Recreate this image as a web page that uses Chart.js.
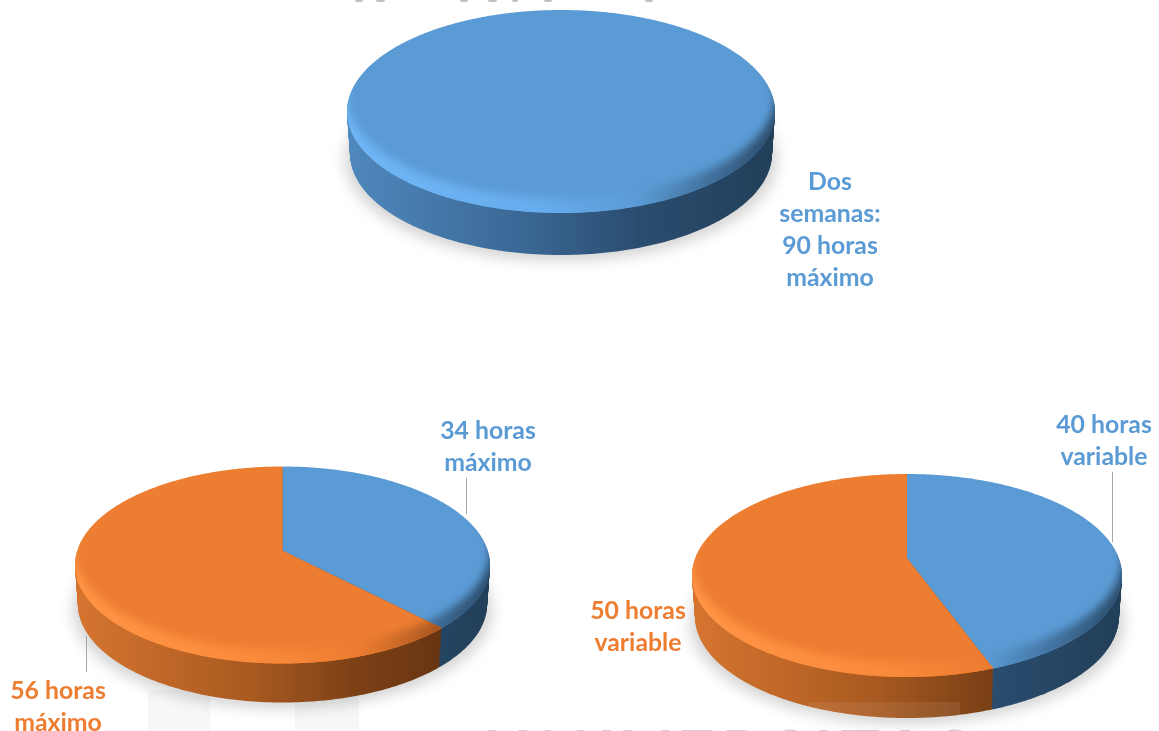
<!DOCTYPE html>
<html lang="es">

<head>
  <meta charset="utf-8" />
  <title>Jornadas máximas</title>
  <script src="https://cdn.jsdelivr.net/npm/chart.js"></script>
  <style>
    html, body {
      margin: 0;
      width: 1159px;
      height: 731px;
      overflow: hidden;
      background: #fff;
    }
    canvas { position: absolute; }
    .label {
      position: absolute;
      width: 200px;
      margin-left: -100px;
      text-align: center;
      font: bold 24.8px/32px Lato, sans-serif;
    }
    .blue { color: #5b9bd5; }
    .orange { color: #ed7d31; }
    .leader { position: absolute; width: 1px; background: #a6a6a6; }
    .stripe { position: absolute; top: 690px; height: 41px; background: #f7f7f7; }
    .scrap { position: absolute; top: 0; height: 2px; background: #c0c0c0; border-radius: 0 0 3px 3px; }
    #watermark {
      position: absolute;
      left: 483px;
      top: 721px;
      font: bold 66px/66px Lato, sans-serif;
      letter-spacing: 7px;
      color: #d0d0d0;
      white-space: nowrap;
    }
    #veil { position: absolute; left: 808px; top: 702px; width: 152px; height: 16px; background: rgba(255, 255, 255, 0.08); }
  </style>
</head>

<body>
  <div class="stripe" style="left: 148px; width: 62px"></div>
  <div class="stripe" style="left: 295px; width: 64px"></div>
  <div id="watermark">UNIVERSITAS</div>

  <canvas id="pieTop"></canvas>
  <canvas id="pieLeft"></canvas>
  <canvas id="pieRight"></canvas>
  <div id="veil"></div>

  <div class="leader" style="left: 466px; top: 478px; height: 36px"></div>
  <div class="leader" style="left: 86px; top: 636px; height: 36px"></div>
  <div class="leader" style="left: 1112px; top: 472px; height: 70px"></div>

  <div class="label blue" style="left: 830px; top: 165px">Dos<br>semanas:<br>90 horas<br>máximo</div>
  <div class="label blue" style="left: 488px; top: 414px">34 horas<br>máximo</div>
  <div class="label orange" style="left: 58px; top: 674px">56 horas<br>máximo</div>
  <div class="label blue" style="left: 1104px; top: 408px">40 horas<br>variable</div>
  <div class="label orange" style="left: 638px; top: 594px">50 horas<br>variable</div>

  <script>
    const topLabels = ['Dos semanas: 90 horas máximo'];
    const topValues = [90];
    const leftLabels = ['34 horas máximo', '56 horas máximo'];
    const leftValues = [34, 56];
    const rightLabels = ['40 horas variable', '50 horas variable'];
    const rightValues = [40, 50];

    const BLUE = '#5b9bd5';
    const ORANGE = '#ed7d31';
    const PAD = 30;

    // colores del borde y del bisel, de izquierda a derecha
    const sideColors = {
      [BLUE]: ['#4f88bd', '#3a6794', '#2a4d6f', '#223f59'],
      [ORANGE]: ['#d67530', '#a95a20', '#7c4016', '#5c2e0f']
    };
    const bevelColors = {
      [BLUE]: ['#6fb6f6', '#68aeef', BLUE, '#2a4a68'],
      [ORANGE]: ['#ff9546', '#fb8b3c', ORANGE, '#7c3f14']
    };

    const ramp = (ctx, x0, x1, colors) => {
      const g = ctx.createLinearGradient(x0, 0, x1, 0);
      const stops = [0, 0.42, 0.68, 1];
      colors.forEach((c, i) => g.addColorStop(stops[i], c));
      return g;
    };

    // plugin: dibuja los sectores de Chart.js inclinados, con borde y sombra
    const tiltPlugin = (geo) => ({
      id: 'tilt',
      beforeDatasetsDraw(chart) {
        const ctx = chart.ctx;
        const arcs = chart.getDatasetMeta(0).data;
        const colors = chart.data.datasets[0].backgroundColor;
        const p = (geo.front - geo.rear) / (geo.front + geo.rear);
        const S = geo.rear * (1 + p);
        const cx = arcs[0].x, cy = arcs[0].y;
        const R = arcs[0].outerRadius * Math.sqrt(1 - p * p);
        const left = cx - arcs[0].outerRadius, right = cx + arcs[0].outerRadius;

        const project = (a, k) => {
          const w = 1 - p * Math.sin(a);
          return [cx + k * R * Math.cos(a) / w, cy + S * Math.sin(a) / w];
        };
        const trace = (a0, a1, dy, center, k = 1) => {
          const n = Math.ceil((a1 - a0) / 0.01);
          if (center) ctx.moveTo(cx, cy + dy);
          for (let i = 0; i <= n; i++) {
            const [x, y] = project(a0 + (a1 - a0) * i / n, k);
            if (i === 0 && !center) ctx.moveTo(x, y + dy);
            else ctx.lineTo(x, y + dy);
          }
          ctx.closePath();
        };

        // sombra
        ctx.save();
        ctx.filter = 'blur(7px)';
        ctx.fillStyle = 'rgba(0, 0, 0, 0.17)';
        ctx.beginPath();
        trace(0, Math.PI * 2, geo.depth + 6, false, 1.01);
        ctx.fill();
        ctx.restore();

        // borde lateral, algo más estrecho abajo
        arcs.forEach((arc, i) => {
          ctx.fillStyle = ramp(ctx, left, right, sideColors[colors[i]]);
          for (let d = geo.depth; d > 0; d--) {
            ctx.beginPath();
            trace(arc.startAngle, arc.endAngle, d, true, 1 - 0.014 * d / geo.depth);
            ctx.fill();
          }
        });

        // cara superior y bisel
        arcs.forEach((arc, i) => {
          ctx.save();
          ctx.beginPath();
          trace(arc.startAngle, arc.endAngle, 0, true);
          ctx.fillStyle = colors[i];
          ctx.fill();
          ctx.clip();
          ctx.filter = 'blur(4px)';
          ctx.beginPath();
          ctx.rect(0, 0, chart.width, chart.height);
          trace(0, Math.PI * 2, -geo.bevel, false);
          ctx.fillStyle = ramp(ctx, left, right, bevelColors[colors[i]]);
          ctx.fill('evenodd');
          ctx.restore();
        });
        return false;
      }
    });

    const makePie = (id, labels, values, colors, geo) => {
      const canvas = document.getElementById(id);
      const side = 2 * (geo.rx + PAD);
      canvas.width = side;
      canvas.height = side;
      canvas.style.left = (geo.cx - side / 2) + 'px';
      canvas.style.top = (geo.cy - side / 2) + 'px';
      return new Chart(canvas, {
        type: 'pie',
        data: { labels: labels, datasets: [{ data: values, backgroundColor: colors, borderWidth: 0 }] },
        options: {
          responsive: false,
          animation: false,
          layout: { padding: PAD },
          plugins: { legend: { display: false }, tooltip: { enabled: false } }
        },
        plugins: [tiltPlugin(geo)]
      });
    };

    makePie('pieTop', topLabels, topValues, [BLUE],
      { cx: 561, cy: 95, rx: 214, rear: 85, front: 118, depth: 42, bevel: 15 });
    makePie('pieLeft', leftLabels, leftValues, [BLUE, ORANGE],
      { cx: 282.5, cy: 550, rx: 207.5, rear: 84, front: 113, depth: 39, bevel: 14 });
    makePie('pieRight', rightLabels, rightValues, [BLUE, ORANGE],
      { cx: 907, cy: 558, rx: 215, rear: 84, front: 119, depth: 41, bevel: 15 });

    // restos de la línea de texto cortada arriba
    const scrapSpans = [[355, 363], [376, 385], [460, 468], [488, 497], [512, 518], [544, 552], [645, 653]];
    scrapSpans.forEach(([a, b]) => {
      const s = document.createElement('div');
      s.className = 'scrap';
      s.style.left = a + 'px';
      s.style.width = (b - a) + 'px';
      document.body.appendChild(s);
    });
  </script>
</body>

</html>
